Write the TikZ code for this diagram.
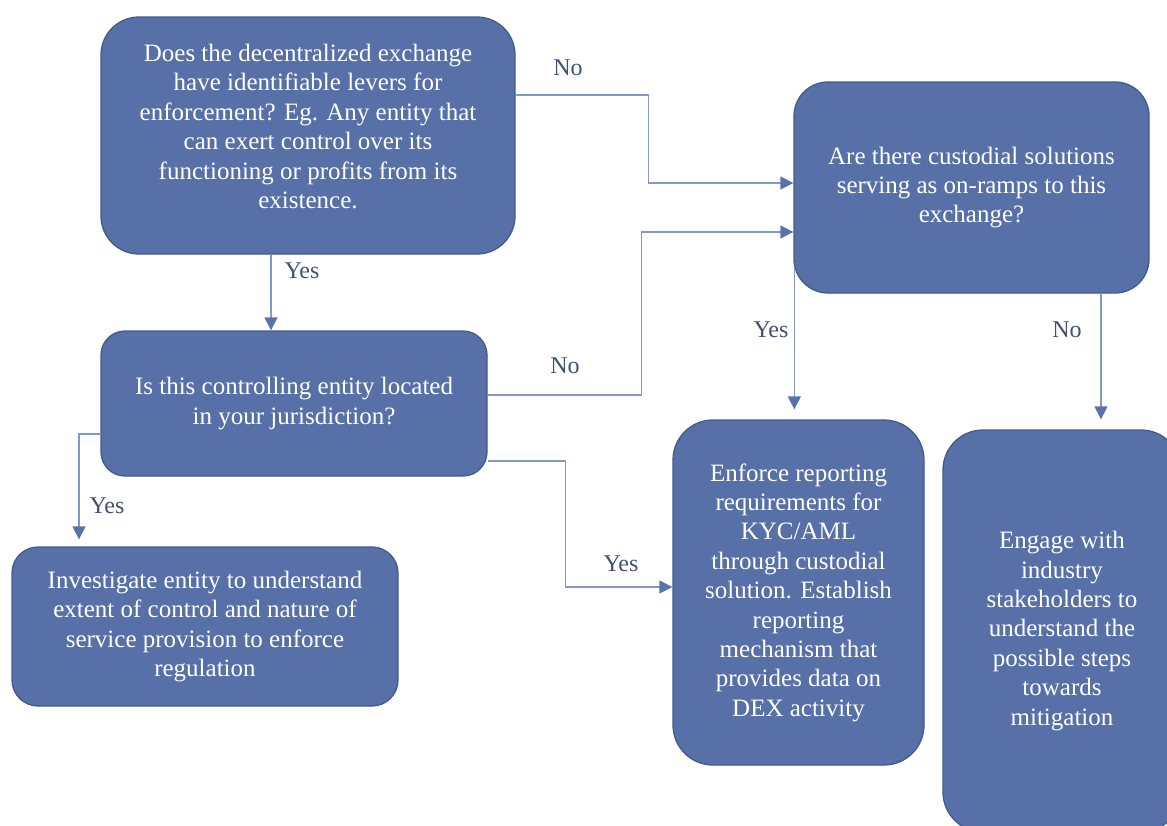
\documentclass[tikz,border=0pt]{standalone}
\usepackage{fontspec}
\setmainfont{Liberation Serif}
\usetikzlibrary{arrows.meta}
\definecolor{boxfill}{HTML}{5770A8}
\definecolor{boxline}{HTML}{425A8C}
\definecolor{connline}{HTML}{8497C6}
\definecolor{tipcol}{HTML}{5A72AC}
\definecolor{labcol}{HTML}{3F4F78}
\begin{document}
\begin{tikzpicture}[x=1pt,y=-1pt,
  box/.style={draw=boxline, line width=1.3pt, fill=boxfill, text=white,
    align=center, font=\fontsize{25}{29.4}\selectfont, inner sep=0pt},
  boxtext/.style={text=white, align=center, font=\fontsize{25}{29.4}\selectfont, inner sep=0pt},
  conn/.style={draw=connline, line width=1.3pt,
    -{Triangle[length=13pt,width=13pt,color=tipcol]}},
  lab/.style={text=labcol, font=\fontsize{24}{29.4}\selectfont, inner sep=0pt}]
\useasboundingbox (0,0) rectangle (1167,825);
\clip (0,0) rectangle (1167,825);

% decision and action boxes
\node[box, minimum width=414pt, minimum height=237pt, rounded corners=38pt] (A) at (308,135.5) {};
\node[boxtext] (At) at ([yshift=9pt]A.center) {Does the decentralized exchange\\have identifiable levers for\\enforcement? Eg. Any entity that\\can exert control over its\\functioning or profits from its\\existence.};
\node[box, minimum width=355pt, minimum height=211pt, rounded corners=34pt] (B) at (971.5,187.5)
  {Are there custodial solutions\\serving as on-ramps to this\\exchange?};
\node[box, minimum width=386pt, minimum height=145pt, rounded corners=24pt] (C) at (294,403.5)
  {Is this controlling entity located\\in your jurisdiction?};
\node[box, minimum width=386pt, minimum height=159pt, rounded corners=26pt] (D) at (205,626.5)
  {Investigate entity to understand\\extent of control and nature of\\service provision to enforce\\regulation};
\node[box, minimum width=251pt, minimum height=345pt, rounded corners=40pt] (E) at (798.5,592.5)
  {Enforce reporting\\requirements for\\KYC/AML\\through custodial\\solution. Establish\\reporting\\mechanism that\\provides data on\\DEX activity};
\node[box, minimum width=238pt, minimum height=402pt, rounded corners=40pt] (F) at (1062,631)
  {Engage with\\industry\\stakeholders to\\understand the\\possible steps\\towards\\mitigation};

% connectors
\draw[conn] ([yshift=40.5pt]A.east) -- ++(133,0) |- ([yshift=4.5pt]B.west);
\draw[conn] ([xshift=-37pt]A.south) -- ([xshift=-37pt]A.south |- C.north);
\draw[conn] ([yshift=8.5pt]C.east) -- ++(154,0) |- ([yshift=-44.5pt]B.west);
\draw[conn, shorten >=7pt] ([yshift=-30.5pt]C.west) -| ([xshift=-126pt]D.north);
\draw[conn] ([yshift=-57.5pt]C.east) -- ++(78,0) |- ([yshift=5.5pt]E.west);
\draw[conn, shorten >=10pt] ([xshift=1pt,yshift=26pt]B.south west) -- ([xshift=1pt]B.south west |- E.north);
\draw[conn, shorten >=10pt] ([xshift=129.5pt]B.south) -- ([xshift=129.5pt]B.south |- F.north);

% branch labels
\node[lab] (l1) at (568,68) {No};
\node[lab] (l2) at (302,271) {Yes};
\node[lab] (l3) at (565,366) {No};
\node[lab] (l4) at (107,506) {Yes};
\node[lab] (l5) at (621,564) {Yes};
\node[lab] (l6) at (771,330) {Yes};
\node[lab] (l7) at (1067,330) {No};
\end{tikzpicture}
\end{document}
